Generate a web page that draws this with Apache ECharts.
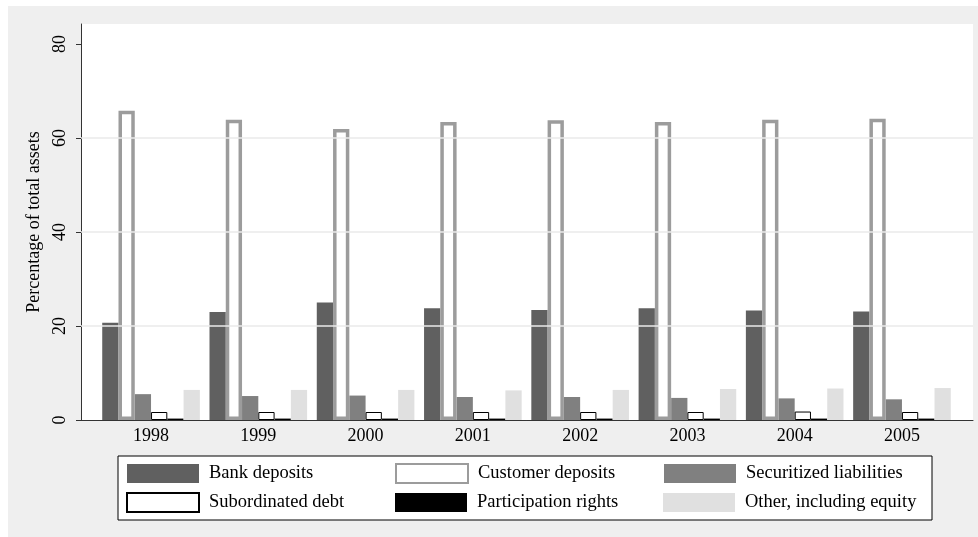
<!DOCTYPE html>
<html>
<head>
<meta charset="utf-8">
<script src="https://cdn.jsdelivr.net/npm/echarts@6/dist/echarts.min.js"></script>
<style>
  html, body { margin: 0; padding: 0; background: #fff; }
  #chart { width: 978px; height: 537px; }
</style>
</head>
<body>
<div id="chart"></div>
<script>
const years = ['1998', '1999', '2000', '2001', '2002', '2003', '2004', '2005'];

const bankDeposits = [20.7, 23.0, 25.0, 23.8, 23.4, 23.8, 23.3, 23.1];
const customerDeposits = [65.8, 63.9, 61.9, 63.4, 63.8, 63.4, 63.9, 64.1];
const securitizedLiabilities = [5.5, 5.1, 5.2, 4.9, 4.9, 4.7, 4.6, 4.4];
const subordinatedDebt = [1.7, 1.7, 1.7, 1.7, 1.7, 1.7, 1.8, 1.7];
const participationRights = [0.3, 0.3, 0.3, 0.3, 0.3, 0.3, 0.3, 0.3];
const otherEquity = [6.4, 6.4, 6.4, 6.3, 6.4, 6.6, 6.7, 6.8];

const yTicks = [0, 20, 40, 60, 80];
const gridValues = [20, 40, 60];
// plot region runs a bit above the top tick (80)
const yMax = 84.26;

const font = 'Liberation Serif';

const chart = echarts.init(document.getElementById('chart'), null, { renderer: 'canvas' });

const bar = (name, data, itemStyle, z = 3) => ({
  name,
  type: 'bar',
  xAxisIndex: 0,
  yAxisIndex: 0,
  data,
  z,
  barGap: '0%',
  barCategoryGap: '9%',
  itemStyle
});

const option = {
  backgroundColor: '#fff',
  animation: false,
  graphic: [{
    type: 'rect',
    left: 8,
    top: 6,
    z: -10,
    shape: { width: 980, height: 540 },
    style: { fill: '#efefef' }
  }],
  grid: [
    { left: 97.4, right: 22.4, top: 24, bottom: 117 },
    { left: 81, right: 5, top: 24, bottom: 117, show: true, backgroundColor: '#fff', borderWidth: 0 }
  ],
  legend: {
    data: ['Bank deposits', 'Customer deposits', 'Securitized liabilities',
           'Subordinated debt', 'Participation rights', 'Other, including equity'],
    left: 118,
    top: 456,
    width: 800,
    padding: [7, 8, 7, 8],
    itemWidth: 72,
    itemHeight: 19,
    itemGap: 8,
    icon: 'rect',
    backgroundColor: '#fff',
    borderColor: '#000',
    borderWidth: 1,
    borderRadius: 0,
    textStyle: {
      fontFamily: font,
      fontSize: 18.5,
      color: '#000',
      width: 178,
      lineHeight: 19,
      padding: [0, 0, 0, 5]
    }
  },
  xAxis: [
    {
      type: 'category',
      gridIndex: 0,
      data: years,
      axisLine: { show: false },
      axisTick: { show: false },
      axisLabel: { fontFamily: font, fontSize: 18, color: '#000', margin: 7 }
    },
    {
      type: 'value',
      gridIndex: 1,
      min: 0,
      max: 1,
      axisLine: { show: true, onZero: false, lineStyle: { color: '#333', width: 1 } },
      axisTick: { show: false },
      axisLabel: { show: false },
      splitLine: { show: false }
    }
  ],
  yAxis: [
    {
      type: 'value',
      gridIndex: 0,
      min: 0,
      max: yMax,
      show: false,
      splitLine: { show: false }
    },
    {
      type: 'value',
      gridIndex: 1,
      min: 0,
      max: yMax,
      name: 'Percentage of total assets',
      nameLocation: 'middle',
      nameGap: 30,
      nameTextStyle: { fontFamily: font, fontSize: 18, color: '#000' },
      axisLine: { show: true, lineStyle: { color: '#333', width: 1 } },
      axisTick: { show: true, length: 5, customValues: yTicks, lineStyle: { color: '#333' } },
      axisLabel: {
        customValues: yTicks,
        rotate: 90,
        margin: 12,
        fontFamily: font,
        fontSize: 18,
        color: '#000'
      },
      splitLine: { show: false }
    }
  ],
  series: [
    {
      name: 'grid',
      type: 'bar',
      xAxisIndex: 1,
      yAxisIndex: 1,
      data: [],
      z: 1,
      silent: true,
      markLine: {
        silent: true,
        symbol: 'none',
        label: { show: false },
        lineStyle: { color: '#eaeaea', type: 'solid', width: 1.5 },
        data: gridValues.map(v => ({ yAxis: v }))
      }
    },
    bar('Bank deposits', bankDeposits, { color: '#606060' }),
    bar('Customer deposits', customerDeposits, { color: '#fff', borderColor: '#9c9c9c', borderWidth: 3.5 }, 4),
    bar('Securitized liabilities', securitizedLiabilities, { color: '#808080' }),
    bar('Subordinated debt', subordinatedDebt, { color: '#fff', borderColor: '#000', borderWidth: 1 }),
    bar('Participation rights', participationRights, { color: '#000' }),
    bar('Other, including equity', otherEquity, { color: '#e0e0e0' })
  ]
};

chart.setOption(option);
</script>
</body>
</html>
